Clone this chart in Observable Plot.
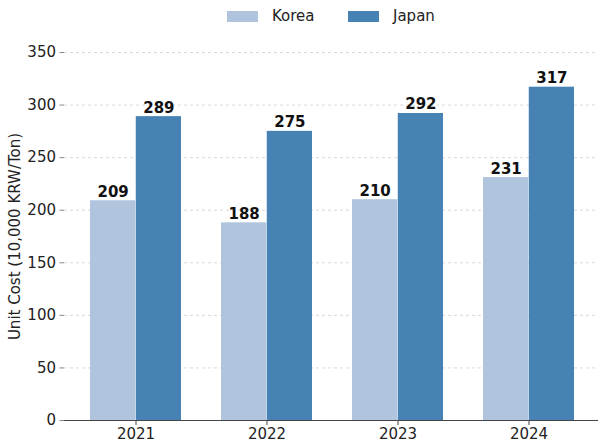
<!DOCTYPE html>
<html>
<head>
<meta charset="utf-8">
<script src="https://cdn.jsdelivr.net/npm/d3@7"></script>
<script src="https://cdn.jsdelivr.net/npm/@observablehq/plot@0.6"></script>
<style>
  html, body { margin: 0; padding: 0; background: #fff; }
  body { width: 598px; height: 444px; overflow: hidden; font-family: "DejaVu Sans", sans-serif; }
  #legend { height: 34px; position: relative; font-size: 15px; color: #222; }
  .item { position: absolute; top: 7px; display: flex; align-items: center; line-height: 18px; }
  .sw { width: 31px; height: 11px; margin-right: 14px; }
</style>
</head>
<body>
<div id="legend"></div>
<div id="chart"></div>
<script>
const years = ["2021", "2022", "2023", "2024"];
const series = ["Korea", "Japan"];
const korea = [209, 188, 210, 231];
const japan = [289, 275, 292, 317];
const colors = ["#b0c4de", "#4682b4"];
const yTicks = [0, 50, 100, 150, 200, 250, 300, 350];
const yLabel = "Unit Cost (10,000 KRW/Ton)";

const rows = [];
years.forEach((y, i) => {
  rows.push({year: y, series: "Korea", value: korea[i]});
  rows.push({year: y, series: "Japan", value: japan[i]});
});

// legend (HTML, above the SVG)
const leg = d3.select("#legend");
const legendLeft = [227, 348];
series.forEach((s, i) => {
  const it = leg.append("div").attr("class", "item").style("left", legendLeft[i] + "px");
  it.append("div").attr("class", "sw").style("background", colors[i]);
  it.append("span").text(s);
});

const xStart = 89, xEnd = 574.5, padInner = 0.303;
const step = (xEnd - xStart) / (years.length - padInner);
const bw = step * (1 - padInner);

const chart = Plot.plot({
  width: 598,
  height: 410,
  marginLeft: 64,
  marginRight: 0,
  marginTop: 18,
  marginBottom: 24,
  style: {fontFamily: "DejaVu Sans, sans-serif", fontSize: "15px", color: "#222", background: "#fff"},
  x: {domain: years, range: [xStart, xEnd], paddingInner: padInner, paddingOuter: 0, align: 0.5, label: null},
  y: {domain: [0, 350], label: null},
  color: {domain: series, range: colors},
  marks: [
    Plot.ruleY(yTicks.filter(d => d > 0), {stroke: "#cfcfcf", strokeDasharray: "3,3", strokeWidth: 0.8}),
    Plot.barY(rows.filter(d => d.series === "Korea"), {x: "year", y: "value", fill: "series", insetRight: bw / 2, insetLeft: 0}),
    Plot.barY(rows.filter(d => d.series === "Japan"), {x: "year", y: "value", fill: "series", insetLeft: bw / 2, insetRight: 0}),
    Plot.text(rows.filter(d => d.series === "Korea"), {x: "year", y: "value", text: d => String(d.value), dx: -bw / 4, dy: -4, lineAnchor: "bottom", fontWeight: "bold", fontSize: 15, fill: "#111"}),
    Plot.text(rows.filter(d => d.series === "Japan"), {x: "year", y: "value", text: d => String(d.value), dx: bw / 4, dy: -4, lineAnchor: "bottom", fontWeight: "bold", fontSize: 15, fill: "#111"}),
    Plot.ruleY([0], {stroke: "#444", strokeWidth: 1.2}),
    Plot.axisY({ticks: yTicks, tickSize: 4.5, tickPadding: 4, stroke: "#888", fill: "#222", fontSize: 15, label: yLabel, labelAnchor: "center", labelOffset: 55, labelArrow: "none"}),
    Plot.axisX({tickSize: 5, tickPadding: 3, stroke: "#444", fill: "#222", fontSize: 15, label: null})
  ]
});
document.getElementById("chart").appendChild(chart);
</script>
</body>
</html>
